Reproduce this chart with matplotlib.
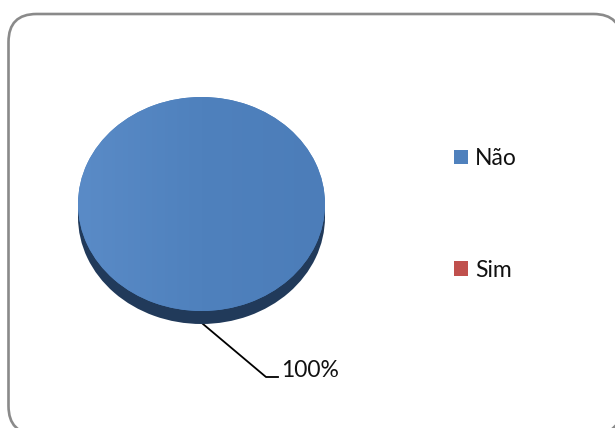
import matplotlib
matplotlib.use("Agg")
import matplotlib.pyplot as plt
import numpy as np
from matplotlib.patches import FancyBboxPatch, Rectangle
from matplotlib.colors import LinearSegmentedColormap

# survey answers
labels = ["Não", "Sim"]
values = [100, 0]
top_colors = ["#4F81BD", "#C0504D"]
side_colors = ["#213A5A", "#7A2F2D"]

W, H = 615, 428
fig = plt.figure(figsize=(W / 100, H / 100), dpi=100)

# background layer in pixel units (y upwards)
bg = fig.add_axes([0, 0, 1, 1])
bg.set_xlim(0, W)
bg.set_ylim(0, H)
bg.axis("off")
# filled white so Agg does not clip the rounded outline on its control points
frame = FancyBboxPatch((8.5, -6), 613, 420,
                       boxstyle="round,pad=0,rounding_size=28",
                       facecolor="white", edgecolor="#8a8a8a", linewidth=1.9)
bg.add_patch(frame)

# pie area: top face of the disc is an ellipse
px0, px1, py0, py1 = 78, 325, 97, 311
depth = 13
ax = fig.add_axes([px0 / W, (H - py1 - depth) / H,
                   (px1 - px0) / W, (py1 - py0 + depth) / H])
ry_units = 2.0 / (py1 - py0)
d = depth * ry_units

# side of the disc
ax.pie(values, colors=side_colors, startangle=90, counterclock=False,
       center=(0, -d), radius=1, frame=True)
ax.add_patch(Rectangle((-1, -d), 2, d, color=side_colors[0], zorder=0.5))
wedges, _ = ax.pie(values, colors=top_colors, startangle=90,
                   counterclock=False, center=(0, 0), radius=1, frame=True)
for w in wedges:
    w.set_zorder(2)

# light sheen across the top face
grad = np.linspace(0, 1, 256).reshape(1, -1)
cmap = LinearSegmentedColormap.from_list("sheen", ["#5A8BC7", "#4F81BD", "#4C7DB9"])
im = ax.imshow(grad, extent=(-1, 1, -1, 1), cmap=cmap, aspect="auto", zorder=3)
im.set_clip_path(wedges[0])

ax.set_xlim(-1, 1)
ax.set_ylim(-1 - d, 1)
ax.set_aspect("auto")
ax.axis("off")

# data label with leader line
pct = values[0] / sum(values) * 100
bg.plot([203, 266, 278], [H - 324, H - 377, H - 377], color="black",
        lw=1.3, zorder=5)
bg.text(281, H - 377, f"{pct:.0f}%", fontsize=16.5, family="Lato",
        color="#111111", va="baseline", ha="left")

# legend
leg = fig.legend(wedges, labels, loc="upper left",
                 bbox_to_anchor=(454 / W, 1 - 148 / H), frameon=False,
                 prop={"family": "Lato", "size": 16.5},
                 handlelength=0.62, handleheight=0.62, handletextpad=0.3,
                 labelspacing=3.95, borderpad=0, borderaxespad=0)
for t in leg.get_texts():
    t.set_color("#111111")

fig.savefig("out.png", dpi=100)
